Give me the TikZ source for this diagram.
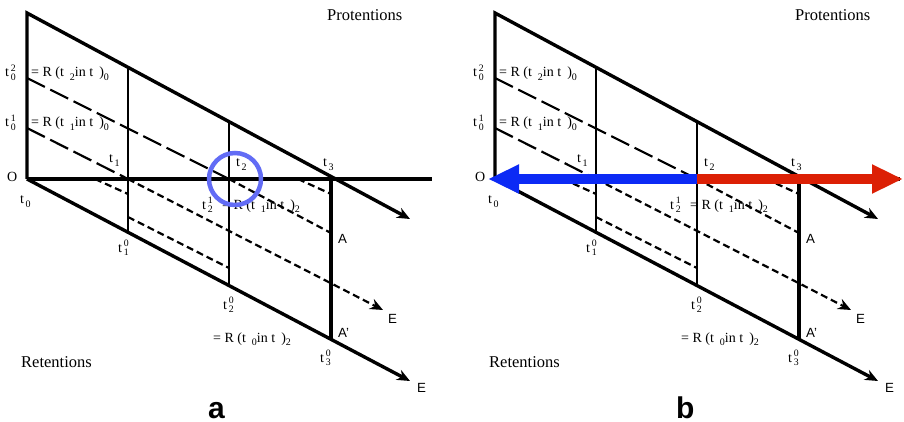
\documentclass[tikz,border=0pt]{standalone}
\usepackage{fontspec}
\setmainfont{Liberation Serif}
\setsansfont{Liberation Sans}
\usepackage{amsmath}
\usepackage{xcolor}
\usetikzlibrary{arrows.meta}
\definecolor{ringblue}{RGB}{98,108,245}
\definecolor{pastblue}{RGB}{12,42,245}
\definecolor{futurered}{RGB}{220,32,5}
\newcommand\subdigit[1]{\raisebox{-3.5pt}{\fontsize{10}{10}\selectfont #1}}
\newcommand\tsub[1]{t\kern1.5pt\subdigit{#1}}
\newcommand\tss[2]{t$^{\,\text{#1}}_{\,\text{#2}}$}
\newcommand\Rin[2]{= R (t\hspace{6pt}\subdigit{#1}in t\hspace{6pt})\subdigit{#2}}

\begin{document}
\begin{tikzpicture}[x=1pt, y=-1pt,
    font=\fontsize{14}{16}\selectfont,
    axis/.style={line width=3.4pt, line join=miter},
    grid/.style={line width=2.8pt},
    longdash/.style={line width=2.2pt, dash pattern=on 20pt off 6pt},
    shortdash/.style={line width=2.2pt, dash pattern=on 7pt off 4pt},
    tip/.style={-{Stealth[length=13pt, width=11pt]}},
    lbl/.style={inner sep=0pt, anchor=base west},
    sanslbl/.style={lbl, font=\sffamily\fontsize{13.3}{15}\selectfont},
    heading/.style={lbl, font=\fontsize{16.5}{18}\selectfont},
    panel/.style={lbl, font=\sffamily\bfseries\fontsize{30}{32}\selectfont},
    ring/.style={draw=ringblue, line width=4.5pt, circle, minimum size=52pt, inner sep=0pt},
    nowarrow/.style={line width=10pt, -{Triangle[length=31pt, width=27pt]}}]
  \useasboundingbox (0,0) rectangle (904,422);
  \foreach \p/\dx in {a/0, b/468} {
    \begin{scope}[xshift=\dx pt]
      % frame of the diagram
      \coordinate (top\p) at (27,13);
      \coordinate (O\p) at (27,179);
      \coordinate (Pend\p) at (410,219);
      \coordinate (Hend\p) at (432,179);
      \coordinate (Rend\p) at (410,381);
      \coordinate (X1\p) at (128,179);
      \coordinate (X2\p) at (229,179);
      \coordinate (X3\p) at (331,179);
      \coordinate (V1t\p) at (128,67.4);
      \coordinate (V1b\p) at (128,232.2);
      \coordinate (V2t\p) at (229,121.9);
      \coordinate (V2b\p) at (229,285.5);
      \coordinate (V3b\p) at (331,339.3);
      \coordinate (L2\p) at (27,78);
      \coordinate (L1\p) at (27,128);
      \coordinate (Ed\p) at (383,310);
      \coordinate (Ad\p) at (331,233);
      \coordinate (S1a\p) at (95,179);
      \coordinate (S1b\p) at (128,194);
      \coordinate (S2a\p) at (298,179);
      \coordinate (S2b\p) at (331,194);
      \coordinate (S3a\p) at (128,217);
      \coordinate (S3b\p) at (229,268);
      \draw[axis, tip] (O\p) -- (top\p) -- (Pend\p);
      \draw[axis] (O\p) -- (Hend\p);
      \draw[axis, tip] (O\p) -- (Rend\p);
      \draw[grid] (V1t\p) -- (V1b\p);
      \draw[grid] (V2t\p) -- (V2b\p);
      \draw[axis] (X3\p) -- (V3b\p);
      % sinking retentions
      \draw[longdash] (L2\p) -- (X2\p);
      \draw[longdash] (L1\p) -- (X1\p);
      \draw[shortdash, tip] (X1\p) -- (Ed\p);
      \draw[shortdash] (X2\p) -- (Ad\p);
      \draw[shortdash] (S1a\p) -- (S1b\p);
      \draw[shortdash] (S2a\p) -- (S2b\p);
      \draw[shortdash] (S3a\p) -- (S3b\p);
      % labels
      \node[heading] (prot\p) at (327,21) {Protentions};
      \node[heading] (ret\p) at (21,367) {Retentions};
      \node[lbl] (Olbl\p) at (7,182) {O};
      \node[lbl] (t0\p) at (20,204) {\tsub{0}};
      \node[lbl] (t1\p) at (109,163) {\tsub{1}};
      \node[lbl] (t2\p) at (236,167) {\tsub{2}};
      \node[lbl] (t3\p) at (323,167) {\tsub{3}};
      \node[lbl] (t02\p) at (5,77) {\tss{2}{0}};
      \node[lbl] (t01\p) at (5,127) {\tss{1}{0}};
      \node[lbl] (R20\p) at (31,77) {\Rin{2}{0}};
      \node[lbl] (R10\p) at (31,127) {\Rin{1}{0}};
      \node[lbl] (t21\p) at (202,209) {\tss{1}{2}};
      \node[lbl] (R12\p) at (222,209) {\Rin{1}{2}};
      \node[lbl] (t10\p) at (118,252) {\tss{0}{1}};
      \node[lbl] (t20\p) at (223,309) {\tss{0}{2}};
      \node[lbl] (t30\p) at (320,362) {\tss{0}{3}};
      \node[lbl] (R02\p) at (213,342) {\Rin{0}{2}};
      \node[sanslbl] (A\p) at (338,243) {A};
      \node[sanslbl] (Ap\p) at (338,337) {A'};
      \node[sanslbl] (Edl\p) at (388,323) {E};
      \node[sanslbl] (Erl\p) at (417,392) {E};
      \node[panel] (tag\p) at (208,418) {\p};
    \end{scope}
  }
  % panel a: the present moment
  \node[ring] (ring) at (235,179) {};
  % panel b: past and future
  \coordinate (pasttip) at (488,179);
  \coordinate (futuretip) at (903,179);
  \draw[nowarrow, pastblue] (X2b) -- (pasttip);
  \draw[nowarrow, futurered] (X2b) -- (futuretip);
\end{tikzpicture}
\end{document}
